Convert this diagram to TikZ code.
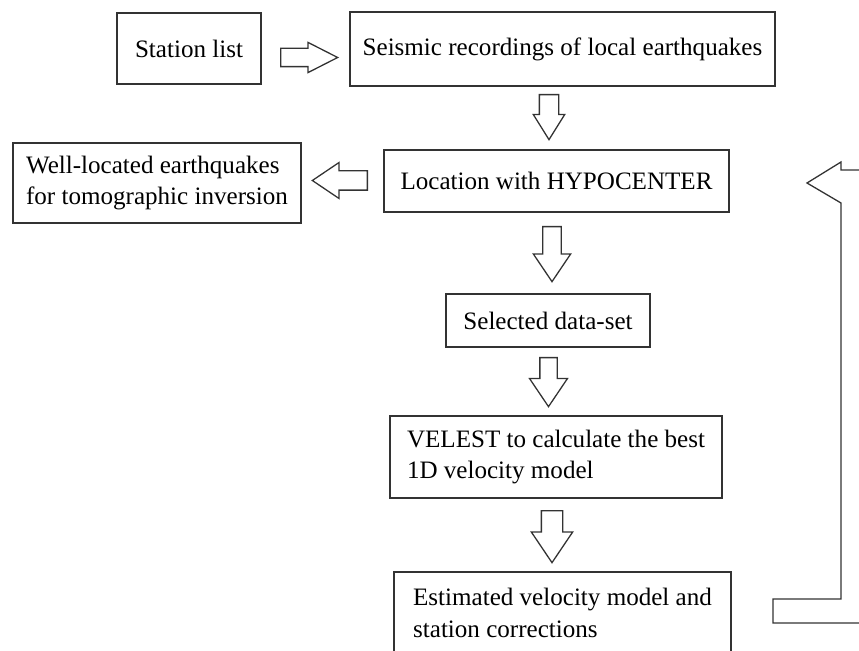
\documentclass[tikz,border=0pt]{standalone}
\usepackage{fontspec}
\setmainfont{Liberation Serif}
\usetikzlibrary{shapes.arrows}

\tikzset{
  box/.style={draw=black!80, line width=1.2pt, inner sep=0pt, align=left,
    font=\fontsize{21.4}{27}\selectfont},
  blockarrow/.style={single arrow, draw=black!80, line width=1.1pt, inner sep=0.26cm,
    anchor=tail, minimum height=1.5cm,
    single arrow head extend=0.28cm, single arrow tip angle=68},
}

\begin{document}
\begin{tikzpicture}[x=0.03cm, y=-0.03cm]
    \useasboundingbox (0,0) rectangle (859,651);
    \clip (0,0) rectangle (859,651);

    \draw (189,48.5) node[box, minimum width=4.32cm, minimum height=2.13cm] (station) {Station list};
    \draw (562.5,49) node[box, minimum width=12.75cm, minimum height=2.22cm] (seismic) {Seismic recordings of local earthquakes};
    \draw (556.5,181) node[box, minimum width=10.35cm, minimum height=1.86cm] (location) {Location with HYPOCENTER};
    \draw (157,183) node[box, minimum width=8.64cm, minimum height=2.4cm] (welllocated) {Well-located earthquakes\\for tomographic inversion};
    \draw (548,320.5) node[box, minimum width=6.12cm, minimum height=1.59cm] (selected) {Selected data-set};
    \draw (556,457) node[box, minimum width=9.96cm, minimum height=2.46cm] (velest) {VELEST to calculate the best\\1D velocity model};
    \draw (562.5,613) node[box, minimum width=10.11cm, minimum height=2.46cm] (estimated) {Estimated velocity model and\\station corrections};

    % hollow arrows between the boxes (placed by their tails)
    \draw (280,57.5) node[blockarrow, inner sep=0.255cm, minimum height=1.71cm, single arrow head extend=0.18cm, single arrow tip angle=54] (arrstation) {};
    \draw (549,94) node[blockarrow, shape border rotate=270, inner sep=0.27cm, minimum height=1.35cm, single arrow head extend=0.18cm, single arrow tip angle=64] (arrseismic) {};
    \draw (368,180.5) node[blockarrow, shape border rotate=180, inner sep=0.27cm, minimum height=1.65cm, single arrow head extend=0.25cm] (arrwell) {};
    \draw (552,226) node[blockarrow, shape border rotate=270, minimum height=1.65cm] (arrlocation) {};
    \draw (548.5,357) node[blockarrow, shape border rotate=270, inner sep=0.24cm, minimum height=1.47cm, single arrow head extend=0.31cm] (arrselected) {};
    \draw (552,510) node[blockarrow, shape border rotate=270, inner sep=0.3cm, minimum height=1.56cm, single arrow head extend=0.3cm] (arrvelest) {};

    % feedback arrow back to the location step
	\draw[draw=black!80, line width=1.1pt, line join=miter]
        (870,170) -- (841,170) -- (841,162) -- (807,183) -- (841,203)
        -- (841,599) -- (773,599) -- (773,623) -- (870,623);
\end{tikzpicture}
\end{document}
